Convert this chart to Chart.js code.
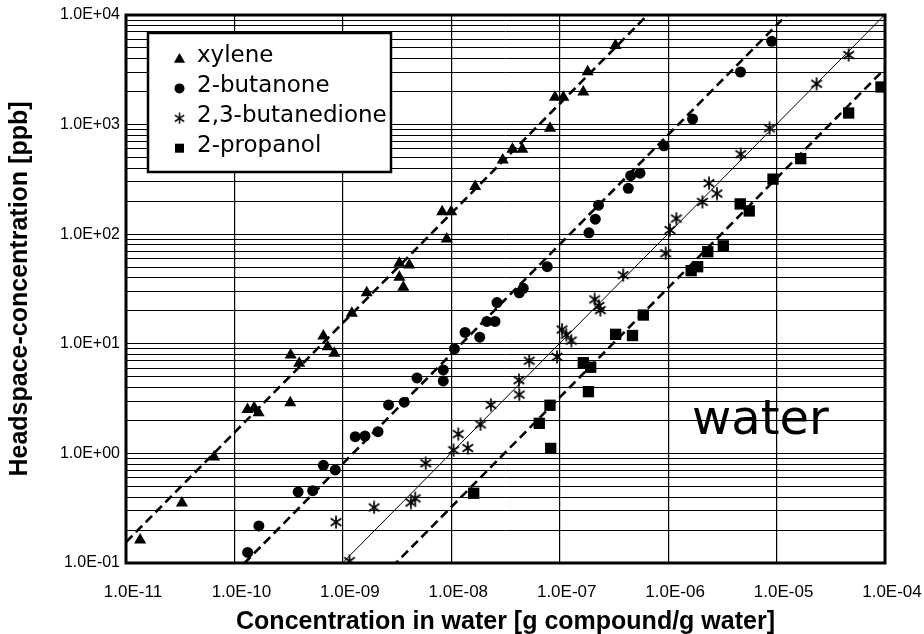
<!DOCTYPE html>
<html>
<head>
<meta charset="utf-8">
<script src="https://cdn.jsdelivr.net/npm/chart.js@4.4.1/dist/chart.umd.min.js"></script>
<style>
html,body{margin:0;padding:0;background:#fff;}
#wrap{width:924px;height:634px;position:relative;}
</style>
</head>
<body>
<div id="wrap"><canvas id="c" width="924" height="634"></canvas></div>
<script>
// ---------- data ----------
const seriesNames = ['xylene', '2-butanone', '2,3-butanedione', '2-propanol'];

const xyleneX = [1.35e-11, 3.28e-11, 6.49e-11, 1.32e-10, 1.52e-10, 1.67e-10, 3.27e-10, 3.30e-10, 3.96e-10,
  6.61e-10, 7.25e-10, 8.34e-10, 1.21e-9, 1.66e-9, 3.32e-9, 4.10e-9, 3.32e-9, 3.61e-9, 8.24e-9, 9.97e-9,
  9.08e-9, 1.66e-8, 2.98e-8, 3.66e-8, 4.52e-8, 8.13e-8, 9.04e-8, 1.08e-7, 1.65e-7, 1.81e-7, 3.27e-7];
const xyleneY = [0.162, 0.352, 0.927, 2.52, 2.61, 2.35, 2.90, 7.90, 6.64,
  11.8, 9.40, 8.18, 19.0, 29.2, 54.2, 52.4, 40.5, 32.8, 160, 160,
  90.4, 272, 475, 596, 596, 925, 1775, 1775, 1982, 3041, 5273];

const butanoneX = [1.325e-10, 1.68e-10, 3.87e-10, 5.27e-10, 6.61e-10, 8.51e-10, 1.30e-9, 1.60e-9, 2.11e-9,
  2.64e-9, 3.68e-9, 4.83e-9, 8.43e-9, 8.43e-9, 1.07e-8, 1.34e-8, 1.83e-8, 2.13e-8, 2.53e-8, 2.64e-8,
  4.24e-8, 4.61e-8, 7.67e-8, 1.86e-7, 2.13e-7, 2.28e-7, 4.29e-7, 4.51e-7, 5.50e-7, 9.15e-7, 1.68e-6,
  4.65e-6, 9.02e-6];
const butanoneY = [0.125, 0.218, 0.445, 0.457, 0.778, 0.706, 1.42, 1.44, 1.58,
  2.77, 2.93, 4.88, 5.77, 4.58, 8.98, 12.7, 11.5, 16.0, 16.0, 23.8,
  29.2, 32.1, 50.5, 103, 137, 184, 262, 342, 360, 641, 1125,
  3020, 5750];

const butanedioneX = [8.65e-10, 1.15e-9, 1.94e-9, 4.24e-9, 4.65e-9, 5.81e-9, 1.05e-8, 1.16e-8, 1.42e-8,
  1.86e-8, 2.32e-8, 4.21e-8, 4.24e-8, 5.23e-8, 9.44e-8, 1.05e-7, 1.15e-7, 1.28e-7, 2.10e-7, 2.30e-7,
  2.37e-7, 3.85e-7, 9.48e-7, 1.04e-6, 1.19e-6, 2.07e-6, 2.38e-6, 2.82e-6, 4.67e-6, 8.61e-6, 2.34e-5, 4.62e-5];
const butanedioneY = [0.236, 0.104, 0.321, 0.356, 0.389, 0.813, 1.07, 1.50, 1.12,
  1.84, 2.77, 4.65, 3.44, 7.01, 7.59, 13.5, 12.1, 10.7, 25.4, 22.1,
  20.3, 42.3, 67.0, 109, 139, 197, 292, 235, 537, 925, 2361, 4313];

const propanolX = [1.61e-8, 6.48e-8, 8.26e-8, 8.13e-8, 1.84e-7, 1.65e-7, 1.93e-7, 3.28e-7, 4.69e-7, 5.90e-7,
  1.63e-6, 1.87e-6, 2.32e-6, 3.23e-6, 4.62e-6, 5.60e-6, 9.27e-6, 1.67e-5, 4.62e-5, 9.18e-5];
const propanolY = [0.433, 1.88, 1.11, 2.75, 3.66, 6.72, 6.11, 12.2, 11.9, 18.3,
  46.5, 50.5, 69.2, 78.3, 189, 163, 318, 489, 1276, 2203];

// Henry-type fit constants (y = K * x) for the four trend lines
const fitK = [1.55e10, 8.07e8, 1.01e8, 3.24e7];
const fitDashed = [true, true, false, true];

// axis ranges and tick values
const xRange = [1e-11, 1e-4];
const yRange = [0.1, 1e4];
const xTickValues = [1e-11, 1e-10, 1e-9, 1e-8, 1e-7, 1e-6, 1e-5, 1e-4];
const yDecades = [-1, 0, 1, 2, 3];
const yMinorMultipliers = [1, 2, 3, 4, 5, 6, 7, 8, 9];

// ---------- helpers ----------
function sciLabel(v) {
  const e = Math.round(Math.log10(v));
  if (Math.abs(v / Math.pow(10, e) - 1) > 1e-6) return '';
  return '1.0E' + (e < 0 ? '-' : '+') + String(Math.abs(e)).padStart(2, '0');
}
function pts(xs, ys) { return xs.map((x, i) => ({x: x, y: ys[i]})); }

function makeAsterisk(size, lw) {
  const c = document.createElement('canvas');
  c.width = size; c.height = size;
  const g = c.getContext('2d');
  g.strokeStyle = '#000'; g.lineWidth = lw; g.lineCap = 'butt';
  const m = size / 2, r = size / 2 - 0.5;
  g.beginPath();
  [90, 35, 145].forEach(a => {
    const t = a * Math.PI / 180;
    g.moveTo(m - r * Math.cos(t), m - r * Math.sin(t));
    g.lineTo(m + r * Math.cos(t), m + r * Math.sin(t));
  });
  g.stroke();
  return c;
}
const asterisk = makeAsterisk(14, 1.7);

const yTickValues = [];
yDecades.forEach(d => yMinorMultipliers.forEach(k => yTickValues.push(k * Math.pow(10, d))));
yTickValues.push(yRange[1]);

const markerStyles = ['triangle', 'circle', asterisk, 'rect'];
const markerRadius = [7, 5.5, 7, 8];
const seriesX = [xyleneX, butanoneX, butanedioneX, propanolX];
const seriesY = [xyleneY, butanoneY, butanedioneY, propanolY];

const datasets = [];
seriesNames.forEach((name, i) => {
  datasets.push({
    type: 'line',
    label: name + ' fit',
    isFit: true,
    data: [{x: xRange[0], y: fitK[i] * xRange[0]}, {x: xRange[1], y: fitK[i] * xRange[1]}],
    borderColor: '#000',
    borderWidth: fitDashed[i] ? 2.6 : 1,
    borderDash: fitDashed[i] ? [9, 5] : [],
    pointRadius: 0,
    fill: false,
    tension: 0,
    order: 2
  });
});
seriesNames.forEach((name, i) => {
  datasets.push({
    type: 'scatter',
    label: name,
    data: pts(seriesX[i], seriesY[i]),
    pointStyle: markerStyles[i],
    pointRadius: markerRadius[i],
    pointHoverRadius: markerRadius[i],
    backgroundColor: '#000',
    borderColor: '#000',
    borderWidth: 0,
    order: 1
  });
});

const FONT = "'Liberation Sans', Arial, Helvetica, sans-serif";
const LEGEND_FONT = "'DejaVu Sans', sans-serif";

const framePlugin = {
  id: 'frame',
  afterDatasetsDraw(chart) {
    const ctx = chart.ctx, a = chart.chartArea;
    ctx.save();
    // "water" annotation
    ctx.fillStyle = '#000';
    ctx.font = '48px ' + LEGEND_FONT;
    ctx.textBaseline = 'alphabetic';
    ctx.textAlign = 'left';
    ctx.fillText('water', 692, 434);

    // legend box
    const bx = 148, by = 33, bw = 243, bh = 139;
    ctx.fillStyle = '#fff';
    ctx.fillRect(bx, by, bw, bh);
    ctx.lineWidth = 2.5;
    ctx.strokeStyle = '#000';
    ctx.strokeRect(bx, by, bw, bh);
    const scatterSets = chart.data.datasets.filter(d => !d.isFit);
    scatterSets.forEach((ds, i) => {
      const base = 62 + i * 29.9;
      const mx = 179.5, my = base - 3.5;
      ctx.fillStyle = '#000';
      ctx.beginPath();
      if (ds.pointStyle === 'triangle') {
        const r = 6.5;
        for (let k = 0; k < 3; k++) {
          const t = k * 2 * Math.PI / 3;
          const px = mx + Math.sin(t) * r, py = my - Math.cos(t) * r + 1;
          if (k === 0) ctx.moveTo(px, py); else ctx.lineTo(px, py);
        }
        ctx.closePath(); ctx.fill();
      } else if (ds.pointStyle === 'circle') {
        ctx.arc(mx, my, 5, 0, Math.PI * 2); ctx.fill();
      } else if (ds.pointStyle === 'rect') {
        ctx.fillRect(mx - 4.5, my - 4.5, 9, 9);
      } else {
        ctx.drawImage(ds.pointStyle, mx - 6, my - 6, 12, 12);
      }
      ctx.font = '23px ' + LEGEND_FONT;
      ctx.textBaseline = 'alphabetic';
      ctx.textAlign = 'left';
      ctx.fillText(ds.label, 197, base);
    });

    // plot frame
    ctx.lineWidth = 3;
    ctx.strokeStyle = '#000';
    ctx.strokeRect(a.left, a.top, a.right - a.left, a.bottom - a.top);
    ctx.restore();
  }
};

Chart.defaults.font.family = FONT;
Chart.defaults.color = '#000';

new Chart(document.getElementById('c'), {
  type: 'scatter',
  data: {datasets: datasets},
  plugins: [framePlugin],
  options: {
    responsive: false,
    animation: false,
    devicePixelRatio: 1,
    layout: {padding: {left: 0, right: 39, top: 15, bottom: 0}},
    plugins: {legend: {display: false}, tooltip: {enabled: false}},
    scales: {
      x: {
        type: 'logarithmic',
        min: xRange[0], max: xRange[1],
        afterBuildTicks: s => { s.ticks = xTickValues.map(v => ({value: v})); },
        afterFit: s => { s.height = 71; s.paddingLeft = 0; s.paddingRight = 0; },
        ticks: {
          autoSkip: false, maxRotation: 0, minRotation: 0,
          callback: v => sciLabel(v),
          font: {size: 17}, color: '#000', padding: 19, labelOffset: 7
        },
        grid: {color: '#000', lineWidth: 1.2, drawTicks: false},
        border: {display: false},
        title: {
          display: true,
          text: 'Concentration in water [g compound/g water]',
          font: {size: 25, weight: 'bold'}, color: '#000',
          padding: {top: 0, bottom: -3}
        }
      },
      y: {
        type: 'logarithmic',
        min: yRange[0], max: yRange[1],
        afterBuildTicks: s => { s.ticks = yTickValues.map(v => ({value: v})); },
        afterFit: s => { s.width = 126; s.paddingTop = 0; s.paddingBottom = 0; },
        ticks: {
          autoSkip: false,
          callback: v => sciLabel(v),
          font: {size: 16}, color: '#000', padding: 6
        },
        grid: {color: '#000', lineWidth: 1, drawTicks: false},
        border: {display: false},
        title: {
          display: true,
          text: 'Headspace-concentration [ppb]',
          font: {size: 25, weight: 'bold'}, color: '#000',
          padding: {top: 5, bottom: 0}
        }
      }
    }
  }
});
</script>
</body>
</html>
